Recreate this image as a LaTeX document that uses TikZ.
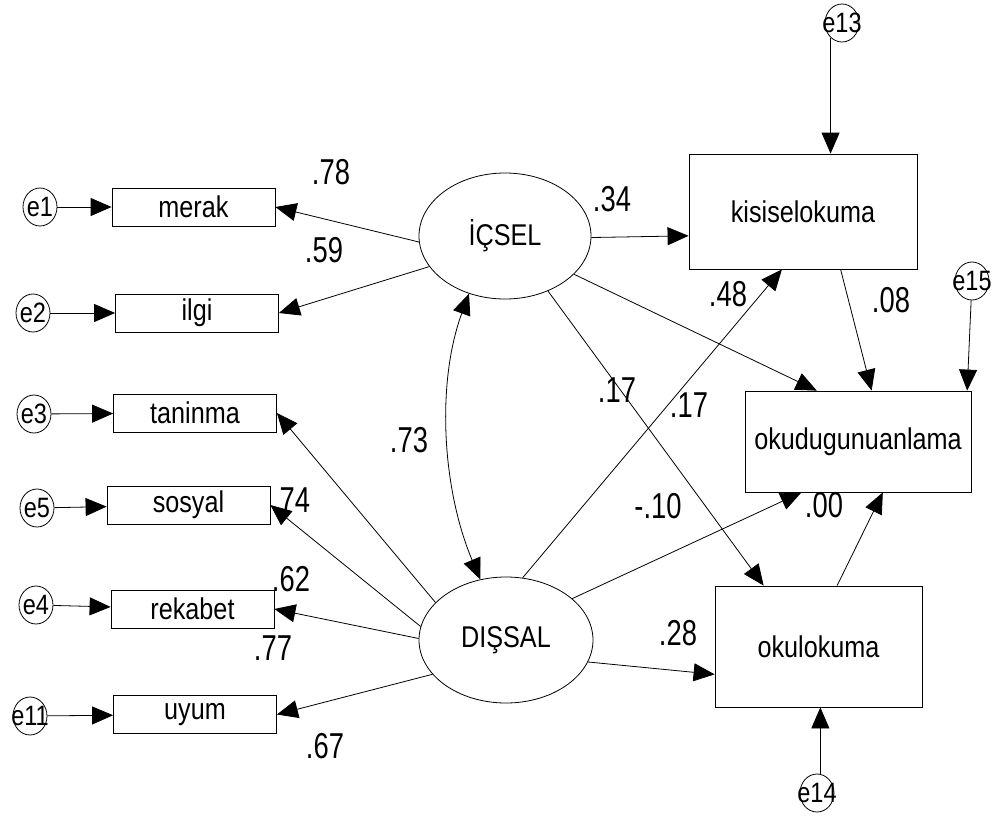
\documentclass[tikz,border=0pt]{standalone}
\usepackage{fontspec}
\usetikzlibrary{arrows.meta,shapes.geometric}
\newfontfamily\amosfont{Liberation Sans}[FakeStretch=0.84]
\newfontfamily\coeffont{Liberation Sans}[FakeStretch=0.76]
\newcommand{\elab}[1]{\makebox[0pt]{#1}}

\begin{document}
\begin{tikzpicture}[x=0.5pt, y=-0.5pt,
  box/.style={draw, rectangle, inner sep=0pt, font=\amosfont\fontsize{15}{18}\selectfont},
  ind/.style={box, minimum width=81.5pt, minimum height=19pt},
  lat/.style={draw, ellipse, inner sep=0pt, minimum width=86pt, minimum height=63pt, font=\amosfont\fontsize{15}{18}\selectfont},
  err/.style={draw, ellipse, inner sep=0pt, minimum width=17pt, minimum height=19pt, font=\amosfont\fontsize{14}{16}\selectfont},
  reg/.style={-{Triangle[length=10.5pt,width=9pt]}},
  cov/.style={{Triangle[length=10.5pt,width=9pt]}-{Triangle[length=10.5pt,width=9pt]}},
  coef/.style={inner sep=0pt, font=\coeffont\fontsize{18}{21}\selectfont}]
\useasboundingbox (0,0) rectangle (998,816);

% Latent variables
\node[lat] (ics) at (505,236) {İÇSEL};
\node[lat, minimum width=87pt] (dis) at (506,640) {DIŞSAL};

% Indicators
\node[ind] (merak) at (193.5,207) {merak};
\node[ind] (ilgi) at (197,313) {ilgi};
\node[ind] (taninma) at (195,413) {taninma};
\node[ind] (sosyal) at (188.5,505) {sosyal};
\node[ind] (rekabet) at (192.5,609) {rekabet};
\node[ind] (uyum) at (195,714.5) {uyum};

% Outcomes
\node[box, minimum width=114pt, minimum height=57.5pt] (kis) at (803,211.5) {kisiselokuma};
\node[box, minimum width=113pt, minimum height=50.5pt] (okud) at (858,441.5) {okudugunuanlama};
\node[box, minimum width=103.5pt, minimum height=60.5pt] (okul) at (818.5,646.5) {okulokuma};

% Errors
\node[err] (e1) at (40,207) {\elab{e1}};
\node[err] (e2) at (33,313) {\elab{e2}};
\node[err] (e3) at (34,414) {\elab{e3}};
\node[err] (e5) at (37,508) {\elab{e5}};
\node[err] (e4) at (36,605) {\elab{e4}};
\node[err] (e11) at (30,716) {\elab{e11}};
\node[err] (e13) at (842,23) {\elab{e13}};
\node[err] (e15) at (972,281) {\elab{e15}};
\node[err] (e14) at (817,793) {\elab{e14}};

\draw[reg] (e1) -- (merak);
\draw[reg] (e2) -- (ilgi);
\draw[reg] (e3) -- (taninma);
\draw[reg] (e5) -- (sosyal);
\draw[reg] (e4) -- (rekabet);
\draw[reg] (e11) -- (uyum);
\draw[reg] (e13.232) -- (e13.232 |- kis.north);
\draw[reg] (e15) -- (okud.25);
\draw[reg] (e14.80) -- (e14.80 |- okul.south);

% Loadings
\draw[reg] (ics.184) -- (merak.east);
\draw[reg] (ics.202) -- (ilgi.east);
\draw[reg] (dis.152) -- (taninma.east);
\draw[reg] (dis.171) -- (sosyal.east);
\draw[reg] (dis.179) -- (rekabet.east);
\draw[reg] (dis.205) -- (uyum.east);

% Structural paths
\draw[reg] (ics.359) -- (kis.192);
\draw[reg] (ics.331) -- (okud.129);
\draw[reg] (ics.308) -- (okul.132);
\draw[reg] (dis.75) -- (kis.250);
\draw[reg] (dis.32) -- (okud.222);
\draw[reg] (dis.345) -- (okul.195);
\draw[reg] (kis.303) -- (okud.75);
\draw[reg] (okul.73) -- (okud.296);
\draw[cov] (ics.238) .. controls +(-33,90) and +(-38,-90) .. (dis.113);

% Estimates
\node[coef] (c1) at (331,172) {.78};
\node[coef] (c2) at (324,250) {.59};
\node[coef] (c3) at (291,500) {.74};
\node[coef] (c4) at (291,579) {.62};
\node[coef] (c5) at (273,648) {.77};
\node[coef] (c6) at (325,746) {.67};
\node[coef] (c7) at (409,440) {.73};
\node[coef] (c8) at (612,199) {.34};
\node[coef] (c9) at (728,294) {.48};
\node[coef] (c10) at (891,300) {.08};
\node[coef] (c11) at (617,390) {.17};
\node[coef] (c12) at (689,405) {.17};
\node[coef] (c13) at (658,506) {-.10};
\node[coef] (c14) at (824,505) {.00};
\node[coef] (c15) at (678,633) {.28};

\end{tikzpicture}
\end{document}
